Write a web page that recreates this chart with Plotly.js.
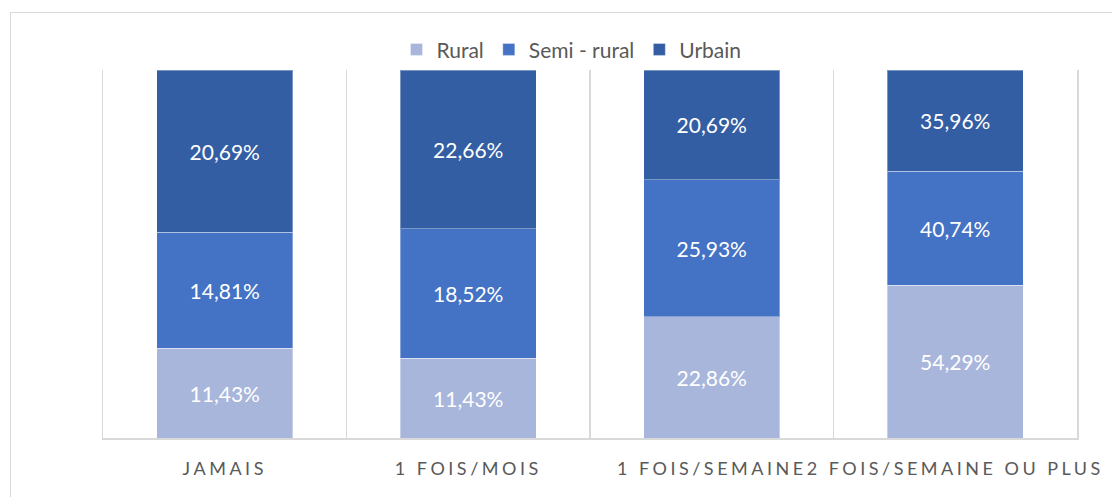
<!DOCTYPE html>
<html>
<head>
<meta charset="utf-8">
<script src="https://cdn.plot.ly/plotly-3.0.1.min.js"></script>
<style>
  html, body { margin: 0; padding: 0; background: #fff; }
  #frame { position: absolute; left: 10px; top: 12px; width: 1200px; height: 600px; border: 1.5px solid #d9d9d9; box-sizing: border-box; }
  #chart { position: absolute; left: 0; top: 0; width: 1112px; height: 497px; }
</style>
</head>
<body>
<div id="frame"></div>
<div id="chart"></div>
<script>
const categories = ["JAMAIS", "1 FOIS/MOIS", "1 FOIS/SEMAINE", "2 FOIS/SEMAINE OU PLUS"];
const rural = [11.43, 11.43, 22.86, 54.29];
const semiRural = [14.81, 18.52, 25.93, 40.74];
const urbain = [20.69, 22.66, 20.69, 35.96];

const fmt = v => v.toFixed(2).replace('.', ',') + '%';
const labelFont = { family: 'Lato, "Open Sans", sans-serif', size: 21, color: '#ffffff' };

function mk(name, vals, color) {
  return {
    type: 'bar', name: name, x: categories, y: vals,
    text: vals.map(fmt), textposition: 'inside', insidetextanchor: 'middle',
    textangle: 0, textfont: labelFont, constraintext: 'none',
    hoverinfo: 'none',
    marker: { color: color, line: { color: 'rgba(255,255,255,0.35)', width: 1 } }
  };
}

const data = [
  mk('Rural', rural, '#a8b6db'),
  mk('Semi - rural', semiRural, '#4472c4'),
  mk('Urbain', urbain, '#345ea3')
];

const layout = {
  width: 1112, height: 497,
  margin: { l: 103, r: 35, t: 70, b: 59 },
  paper_bgcolor: 'rgba(0,0,0,0)', plot_bgcolor: 'rgba(0,0,0,0)',
  barmode: 'stack', barnorm: 'percent', bargap: 0.44,
  showlegend: true,
  legend: { orientation: 'h', x: 0.481, xanchor: 'center', y: 1.055, yanchor: 'middle',
            font: { family: 'Lato, "Open Sans", sans-serif', size: 21, color: '#595959' },
            traceorder: 'normal', itemwidth: 30 },
  xaxis: {
    type: 'category', tickson: 'boundaries', showgrid: true, gridcolor: '#d9d9d9', gridwidth: 1.5,
    showline: true, linecolor: '#d9d9d9', linewidth: 1.5, ticks: '', ticklen: 0,
    ticklabelstandoff: 14,
    tickfont: { family: 'Lato, "Open Sans", sans-serif', size: 18, color: '#595959' },
    fixedrange: true
  },
  yaxis: { range: [0, 100], showticklabels: false, ticks: '', showgrid: false, zeroline: false,
           showline: true, mirror: true, linecolor: '#d9d9d9', linewidth: 1.5, fixedrange: true }
};

Plotly.newPlot('chart', data, layout, { displayModeBar: false, staticPlot: true }).then(() => {
  document.querySelectorAll('.xtick text').forEach(t => { t.style.letterSpacing = '3.5px'; });
});
</script>
</body>
</html>
